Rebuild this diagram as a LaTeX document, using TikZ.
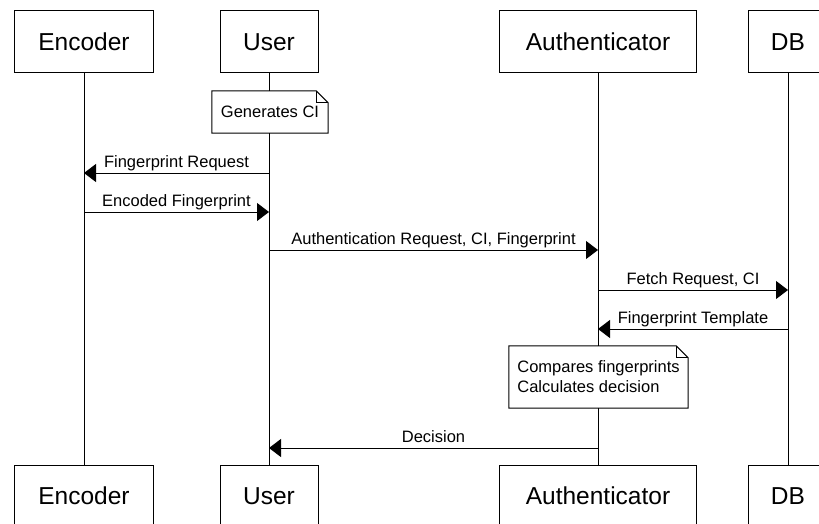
\documentclass[tikz,border=0pt]{standalone}
\usepackage{fontspec}
\setmainfont{Liberation Sans}
\usetikzlibrary{arrows.meta}
\begin{document}
\begin{tikzpicture}[x=1pt,y=-1pt,
  actor/.style={draw, line width=1pt, minimum height=62pt, inner sep=0pt,
    font=\fontsize{24.5}{28}\selectfont},
  lifeline/.style={line width=1pt},
  msg/.style={line width=1pt, -{Triangle[length=12pt,width=18pt]}},
  lbl/.style={midway, anchor=base, yshift=5.5pt, inner sep=0pt,
    font=\fontsize{16.5}{20}\selectfont},
  notebody/.style={fill=white, inner sep=0pt, align=left,
    font=\fontsize{16.5}{20}\selectfont},
  noteline/.style={line width=1pt}]

\useasboundingbox (0,0) rectangle (819,524);

% participants, top row
\node[actor, minimum width=139pt] (encT)  at (84,42)  {Encoder};
\node[actor, minimum width=98pt]  (userT) at (269,42) {User};
\node[actor, minimum width=197pt] (authT) at (598,42) {Authenticator};
\node[actor, minimum width=80pt]  (dbT)   at (788,42) {DB};

% participants, bottom row
\node[actor, minimum width=139pt] (encB)  at (84,496)  {Encoder};
\node[actor, minimum width=98pt]  (userB) at (269,496) {User};
\node[actor, minimum width=197pt] (authB) at (598,496) {Authenticator};
\node[actor, minimum width=80pt]  (dbB)   at (788,496) {DB};

% lifelines
\draw[lifeline] (encT.south)  -- (encB.north);
\draw[lifeline] (userT.south) -- (userB.north);
\draw[lifeline] (authT.south) -- (authB.north);
\draw[lifeline] (dbT.south)   -- (dbB.north);

% notes with folded corner
\node[notebody, minimum width=116pt, minimum height=42pt] (n1) at (270,112) {Generates CI};
\draw[noteline] (n1.north west) -- ([xshift=-12pt]n1.north east)
  -- ([yshift=-12pt]n1.north east) -- (n1.south east) -- (n1.south west) -- cycle;
\draw[noteline] ([xshift=-12pt]n1.north east) -- ([xshift=-12pt,yshift=-12pt]n1.north east)
  -- ([yshift=-12pt]n1.north east);

\node[notebody, minimum width=179pt, minimum height=62pt] (n2) at (598.5,377)
  {Compares fingerprints\\Calculates decision};
\draw[noteline] (n2.north west) -- ([xshift=-12pt]n2.north east)
  -- ([yshift=-12pt]n2.north east) -- (n2.south east) -- (n2.south west) -- cycle;
\draw[noteline] ([xshift=-12pt]n2.north east) -- ([xshift=-12pt,yshift=-12pt]n2.north east)
  -- ([yshift=-12pt]n2.north east);

% message end points on the lifelines
\coordinate (m1u) at (userT.south |- 0,173);
\coordinate (m1e) at (encT.south |- 0,173);
\coordinate (m2e) at (encT.south |- 0,212);
\coordinate (m2u) at (userT.south |- 0,212);
\coordinate (m3u) at (userT.south |- 0,250);
\coordinate (m3a) at (authT.south |- 0,250);
\coordinate (m4a) at (authT.south |- 0,290);
\coordinate (m4d) at (dbT.south |- 0,290);
\coordinate (m5d) at (dbT.south |- 0,329);
\coordinate (m5a) at (authT.south |- 0,329);
\coordinate (m6a) at (authT.south |- 0,448);
\coordinate (m6u) at (userT.south |- 0,448);

% messages
\draw[msg] (m1u) -- (m1e) node[lbl] {Fingerprint Request};
\draw[msg] (m2e) -- (m2u) node[lbl] {Encoded Fingerprint};
\draw[msg] (m3u) -- (m3a) node[lbl] {Authentication Request, CI, Fingerprint};
\draw[msg] (m4a) -- (m4d) node[lbl] {Fetch Request, CI};
\draw[msg] (m5d) -- (m5a) node[lbl] {Fingerprint Template};
\draw[msg] (m6a) -- (m6u) node[lbl] {Decision};
\end{tikzpicture}
\end{document}
